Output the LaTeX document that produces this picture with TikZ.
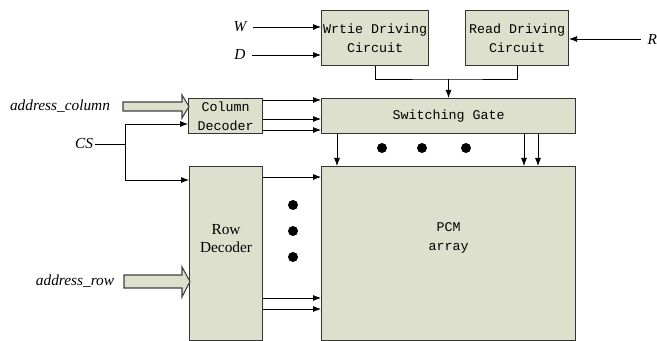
\documentclass[tikz,border=0pt]{standalone}
\usepackage{fontspec}
\setmainfont{Liberation Serif}
\setmonofont{Liberation Mono}
\usetikzlibrary{arrows.meta,calc}
\definecolor{boxfill}{RGB}{221,224,204}
\begin{document}
\begin{tikzpicture}[x=0.75pt, y=-0.75pt,
  blk/.style={draw=black!80, line width=0.8pt, fill=boxfill, anchor=north west, inner sep=0pt, align=center, font=\ttfamily\fontsize{10}{14}\selectfont},
  sig/.style={font=\itshape\fontsize{11.5}{13}\selectfont, inner sep=1pt},
  arr/.style={-{Latex[length=6pt,width=4.5pt]}, line width=0.6pt},
  fat/.style={draw=black!75, line width=0.8pt, fill=boxfill}]
  \useasboundingbox (0,0) rectangle (657,341);
  % blocks, top-left corners in pixels
  \node[blk, minimum width=107*0.75pt, minimum height=55*0.75pt] (wdc) at (321,10) {Wrtie Driving\\Circuit};
  \node[blk, minimum width=103*0.75pt, minimum height=55*0.75pt] (rdc) at (465,10) {Read Driving\\Circuit};
  \node[blk, minimum width=254*0.75pt, minimum height=35*0.75pt] (sg) at (321,98) {Switching Gate};
  \node[blk, minimum width=74*0.75pt, minimum height=35*0.75pt] (cd) at (188,98) {Column\\Decoder};
  \node[blk, minimum width=73*0.75pt, minimum height=174*0.75pt] (rd) at (189,166) {};
  \node[blk, minimum width=254*0.75pt, minimum height=174*0.75pt] (pcm) at (321,166) {};
  \node[align=center, font=\fontsize{11.5}{13.5}\selectfont] (rdtxt) at (rd.center |- 0,239) {Row\\Decoder};
  \node[align=center, font=\ttfamily\fontsize{10}{14}\selectfont] (pcmtxt) at (pcm.center |- 0,238) {PCM\\array};
  % signals
  \node[sig] (w) at (240,27) {W};
  \node[sig] (d) at (240,55) {D};
  \node[sig, anchor=west] (r) at (646,39) {R};
  \node[sig] (cs) at (84,144) {CS};
  \node[sig] (acol) at (60,106) {address\_column};
  \node[sig] (arow) at (75,281) {address\_row};
  \draw[arr] ([xshift=4pt]w.east) -- (wdc.west |- w);
  \draw[arr] ([xshift=4pt]d.east) -- (wdc.west |- d);
  \draw[arr] ([xshift=-4pt]r.west) -- (rdc.east |- r);
  \coordinate (mrg) at (sg.north |- 0,79);
  \draw[line width=0.6pt] (wdc.south) |- (mrg) -| (rdc.south);
  \draw[arr] (mrg) -- (sg.north);
  % chip select
  \coordinate (jt) at (125,124);
  \coordinate (jb) at (125,180);
  \draw[line width=0.6pt] (cs.east) -- (cs.east -| jt);
  \draw[arr] (jt) -- (jt -| cd.west);
  \draw[arr] (jt) |- (rd.west |- jb);
  % address buses
  \draw[fat] (123,102) -- (182,102) -- (182,95) -- (189,106.5) -- (182,118) -- (182,111) -- (123,111) -- cycle;
  \draw[fat] (124,275) -- (182,275) -- (182,267) -- (190,281.5) -- (182,297) -- (182,288) -- (124,288) -- cycle;
  % block to block
  \foreach \dy in {2,21,32} \draw[arr] ($(cd.north east)+(0,\dy)$) -- ($(sg.north west)+(0,\dy)$);
  \foreach \dx in {16,203,217} \draw[arr] ($(sg.south west)+(\dx,0)$) -- ($(pcm.north west)+(\dx,0)$);
  \foreach \dy in {11,132,143} \draw[arr] ($(rd.north east)+(0,\dy)$) -- ($(pcm.north west)+(0,\dy)$);
  \foreach \x in {382,422,466} \fill (\x,148) circle (3.75pt);
  \foreach \y in {205,231,257} \fill (293,\y) circle (3.75pt);
\end{tikzpicture}
\end{document}
